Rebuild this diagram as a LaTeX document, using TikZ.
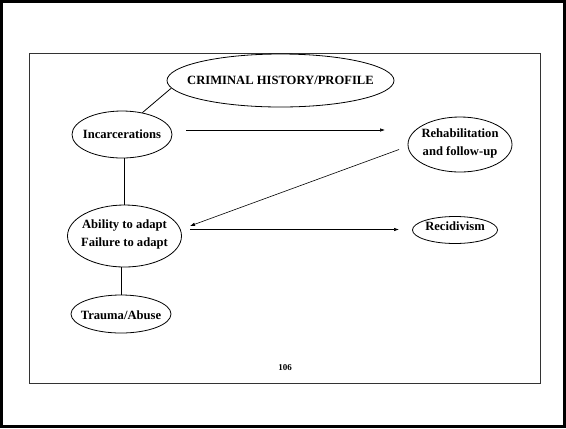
\documentclass[tikz,border=0pt]{standalone}
\usepackage{fontspec}
\setmainfont{Liberation Serif}
\usetikzlibrary{shapes.geometric,arrows.meta}
\begin{document}
\begin{tikzpicture}[x=1bp,y=-1bp,
  oval/.style={draw,ellipse,line width=0.8bp,inner sep=0pt},
  txt/.style={font=\fontsize{12.6bp}{18bp}\selectfont\bfseries,align=center,inner sep=0pt},
  link/.style={line width=0.8bp},
  arr/.style={line width=0.6bp,-{Latex[length=5bp,width=3.5bp]}}]
\useasboundingbox (0,0) rectangle (566,428);
\draw[line width=2.5bp] (1.5,1.5) rectangle (564.5,426.5);
\draw[line width=0.8bp,black!80] (29.5,53.5) rectangle (540,383);
\node[oval,minimum width=227bp,minimum height=53bp,label={[txt]center:CRIMINAL HISTORY/PROFILE}] (crim) at (280.5,80.5) {};
\node[oval,minimum width=100bp,minimum height=47bp,label={[txt]center:Incarcerations}] (inc) at (122,134.5) {};
\node[oval,minimum width=104bp,minimum height=55bp,label={[txt,yshift=1bp]center:Rehabilitation\\and follow-up}] (reh) at (460,144.5) {};
\node[oval,minimum width=114bp,minimum height=62bp,label={[txt,yshift=2bp]center:Ability to adapt\\Failure to adapt}] (abl) at (124.5,236) {};
\node[oval,minimum width=85bp,minimum height=27bp,label={[txt,yshift=4bp]center:Recidivism}] (rec) at (455,230) {};
\node[oval,minimum width=100bp,minimum height=38bp,label={[txt,yshift=-1.5bp]center:Trauma/Abuse}] (tra) at (121,314) {};
\node[font=\fontsize{9bp}{11bp}\selectfont\bfseries] (pg) at (285,368) {106};
\draw[link] (crim.184) -- (inc.47);
\draw[link] (abl.north) -- (abl.north |- inc.south);
\draw[link] (tra.north) -- (tra.north |- abl.south);
\coordinate (a1) at (186,130);
\coordinate (a2) at (385,130);
\coordinate (b1) at (399,149.5);
\coordinate (b2) at (190,226);
\coordinate (c1) at (190,229.5);
\coordinate (c2) at (399,229.5);
\draw[arr] (a1) -- (a2);
\draw[arr] (b1) -- (b2);
\draw[arr] (c1) -- (c2);
\end{tikzpicture}
\end{document}
